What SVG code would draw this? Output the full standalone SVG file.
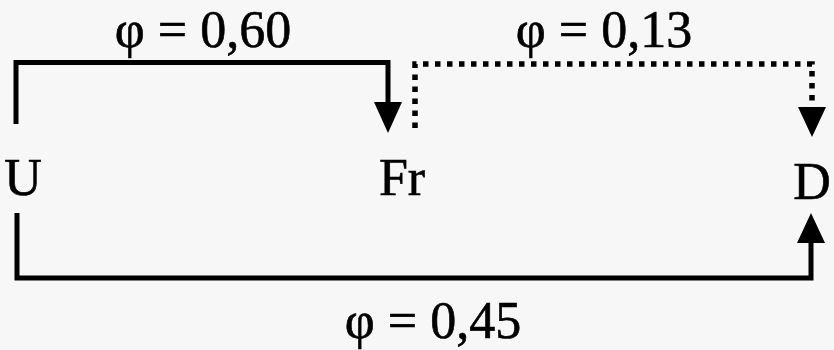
<svg xmlns="http://www.w3.org/2000/svg" width="834" height="350" viewBox="0 0 834 350">
<defs>
<style>
.lbl{font-family:"Liberation Serif","Times New Roman",serif;font-size:52px;fill:#000;stroke:#000;stroke-width:0.6;}
.ln{fill:none;stroke:#000;stroke-width:5;stroke-linejoin:miter;stroke-linecap:butt;}
.dot{fill:none;stroke:#000;stroke-width:5.5;stroke-dasharray:5.5 6.5;}
.head{fill:#000;}
</style>
</defs>
<rect width="834" height="350" fill="#f7f7f7"/>
<g id="node-U"><text class="lbl" x="23" y="195" text-anchor="middle">U</text></g>
<g id="node-Fr"><text class="lbl" x="402" y="195" text-anchor="middle">Fr</text></g>
<g id="node-D"><text class="lbl" x="812" y="199" text-anchor="middle">D</text></g>
<g id="connectors">
<g id="edge-U-Fr">
<path class="ln" d="M16,124 V62.5 H388 V104"/>
<polygon class="head" points="374,102 402,102 388,133"/>
<text class="lbl" x="203" y="47" text-anchor="middle">φ = 0,60</text>
</g>
<g id="edge-Fr-D">
<path class="dot" d="M415,128 V64 H812 V106"/>
<polygon class="head" points="798,107 826,107 812,137"/>
<text class="lbl" x="604" y="47" text-anchor="middle">φ = 0,13</text>
</g>
<g id="edge-U-D">
<path class="ln" d="M17,213 V278 H811 V242"/>
<polygon class="head" points="797,243 825,243 811,213"/>
<text class="lbl" x="433" y="338" text-anchor="middle">φ = 0,45</text>
</g>
</g>
</svg>
